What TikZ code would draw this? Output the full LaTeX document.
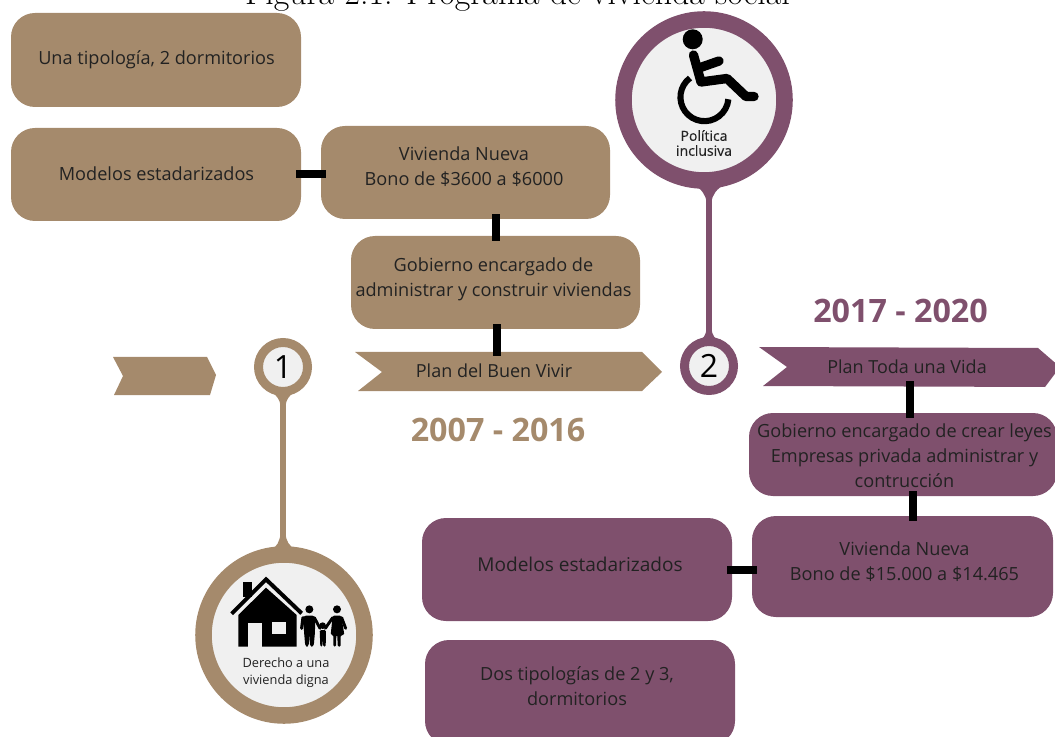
\documentclass[tikz,border=0pt]{standalone}
\usepackage{fontspec}
\setsansfont{Open Sans}
\newfontfamily\capfont[FakeBold=0.3]{Open Sans}
\definecolor{tan}{HTML}{A58A6C}
\definecolor{plum}{HTML}{7F506D}
\definecolor{disc}{HTML}{F0F0F0}
\definecolor{ink}{HTML}{222222}
\tikzset{
  pbox/.style n args={3}{draw=none,fill=#1,rounded corners=18pt,minimum width=#2*0.75pt,minimum height=#3*0.75pt,
    inner sep=0pt},
  boxlabel/.style={inner sep=0pt,align=center,text=ink,font=\sffamily\fontsize{13.6}{18.75}\selectfont},
  link/.style={draw=black,line width=6pt,shorten >=-3.75pt,shorten <=-3.75pt},
  stem/.style={line width=3.9pt},
  small disc/.style={circle,fill=disc,draw=#1,line width=6.75pt,minimum size=49*0.75pt,inner sep=0pt,text=black,font=\sffamily\fontsize{24}{24}\selectfont},
  big disc/.style={circle,fill=disc,draw=#1,line width=12.4pt,minimum size=161*0.75pt,inner sep=0pt},
  banner text/.style={inner sep=0pt,minimum height=39*0.75pt,minimum width=100pt,text=ink,font=\sffamily\fontsize{13.5}{18.75}\selectfont},
  year/.style={inner sep=0pt,font=\sffamily\bfseries\fontsize{24.2}{24.2}\selectfont},
  caption text/.style={inner sep=0pt,align=center,text=ink},
}
\begin{document}
\begin{tikzpicture}[x=0.75pt,y=-0.75pt]
\useasboundingbox (0,0) rectangle (1055,737);
\clip (0,0) rectangle (1055,737);

% title, cut by the top edge
\node[anchor=base,inner sep=0pt,font=\rmfamily\fontsize{25.4}{25.4}\selectfont] (title) at (517.5,5) {Figura 2.1: Programa de vivienda social};

% banners
\fill[tan] (113,357) -- (207,357) -- (216,375) -- (210,395) -- (114,395) -- (123,376) -- cycle;
\fill[tan] (355,352) -- (642,352) -- (662,372) -- (642,391) -- (358,391) -- (382,372) -- cycle;
\fill[plum] (759,347) -- (1038,348) -- (1060,367) -- (1045,387) -- (763,386) -- (787,367) -- cycle;

% tan boxes
\node[pbox={tan}{290}{94}] (a1) at (156,60) {};
\node[pbox={tan}{290}{93}] (a2) at (156,174.5) {};
\node[pbox={tan}{289}{93}] (a3) at (465.5,172.5) {};
\node[pbox={tan}{289}{93}] (a4) at (495.5,282.5) {};
\node[boxlabel] (a1t) at (156.5,59.5) {Una tipología, 2 dormitorios};
\node[boxlabel] (a2t) at (156.5,173.5) {Modelos estadarizados};
\node[boxlabel] (a3t) at (464,166.5) {Vivienda Nueva\\Bono de \$3600 a \$6000};
\node[boxlabel] (a4t) at (493.5,279) {Gobierno encargado de\\administrar y construir viviendas};
\node[banner text] (plan1) at (494,370.5) {Plan del Buen Vivir};

% plum boxes
\node[pbox={plum}{308}{83}] (b1) at (903,454.5) {};
\node[pbox={plum}{301}{101}] (b2) at (902.5,566.5) {};
\node[pbox={plum}{310}{103}] (b3) at (577,569.5) {};
\node[pbox={plum}{310}{105}] (b4) at (580,692.5) {};
\node[boxlabel] (b1t) at (904.5,456) {Gobierno encargado de crear leyes\\Empresas privada administrar y\\contrucción};
\node[boxlabel] (b2t) at (904.5,561.5) {Vivienda Nueva\\Bono de \$15.000 a \$14.465};
\node[boxlabel,font=\sffamily\fontsize{14.3}{18.75}\selectfont] (b3t) at (580,564) {Modelos estadarizados};
\node[boxlabel] (b4t) at (577,686.5) {Dos tipologías de 2 y 3,\\dormitorios};
\node[banner text] (plan2) at (907,366.5) {Plan Toda una Vida};

% connectors between boxes
\draw[link] (a2.east) -- (a2.east -| a3.west);
\draw[link] (a4.north) -- (a4.north |- a3.south);
\draw[link] ([xshift=1pt]a4.south) -- ([xshift=1pt]a4.south |- plan1.north);
\draw[link] ([xshift=5.25pt]b1.north) -- ([xshift=5.25pt]b1.north |- plan2.south);
\draw[link] ([xshift=7.9pt]b2.north) -- ([xshift=7.9pt]b2.north |- b1.south);
\draw[link] (b3.east) -- (b3.east -| b2.west);

% years
\node[year,text=plum] (y2) at (900.5,311) {2017 - 2020};
\node[year,text=tan] (y1) at (498,430) {2007 - 2016};

% discs
\coordinate (p1) at (283,367);
\coordinate (p2) at (709,366);
\coordinate (q1) at (284,635);
\coordinate (q2) at (704,100);
\draw[stem,tan] (p1) -- (283,540);
\draw[stem,plum] (p2) -- (709,190);
\fill[tan] (270,551) .. controls (277,547) and (280,541) .. (280.5,533) -- (285.5,533) .. controls (286,541) and (289,546) .. (296,550) -- cycle;
\fill[tan] (272,392) .. controls (277,396) and (280,400) .. (280.5,406) -- (285.5,406) .. controls (286,400) and (289,396) .. (294,392) -- cycle;
\fill[plum] (693,184) .. controls (701,189) and (706,194) .. (706.5,203) -- (711.5,203) .. controls (712,194) and (717,189) .. (725,184) -- cycle;
\fill[plum] (698,342) .. controls (703,339) and (706,335) .. (706.5,329) -- (711.5,329) .. controls (712,335) and (715,339) .. (720,342) -- cycle;
\node[small disc=tan] (n1) at (p1) {1};
\node[small disc=plum] (n2) at (p2) {2};
\node[big disc=tan] (d1) at (q1) {};
\node[big disc=plum] (d2) at (q2) {};

% wheelchair
\fill[black] (692.7,39.3) circle[radius=10];
\draw[black,line width=7pt,line cap=round,line join=round] (693.5,55) -- (701,82) -- (727,78.5) -- (746,96.5) -- (754,96.5);
\draw[black,line width=7pt,line cap=round] (699,68) -- (719,61);
\draw[black,line width=4.6pt] (690,78) arc[start angle=233,end angle=5,radius=24];
\node[caption text,font=\capfont\fontsize{10.5}{11.2}\selectfont] (t2) at (704,143) {Política\\inclusiva};

% house and family, drawn at one third scale
\begin{scope}[shift={(180,520)},x=0.25pt,y=-0.25pt]
\fill[black] (188,185) rectangle (215,232);
\draw[black,line width=3pt,miter limit=10] (155,281) -- (258,178) -- (365,280);
\fill[black] (175,285) -- (258,203) -- (350,285) -- (350,380) -- (175,380) -- cycle;
\fill[disc] (205,310) rectangle (245,380);
\fill[disc] (275,305) rectangle (318,342);
\fill[black] (388,268) circle[radius=12];
\fill[black,rounded corners=2pt] (370,287) -- (405,287) -- (405,335) -- (401,380) -- (390,380) -- (388,340) -- (386,380) -- (376,380) -- (372,335) -- cycle;
\draw[black,line width=2.4pt,line cap=round,line join=round] (369,293) -- (365,325);
\draw[black,line width=2.2pt,line cap=round,line join=round] (403,293) -- (420,325);
\fill[black] (428,317) circle[radius=10];
\fill[black,rounded corners=1pt] (419,330) -- (438,330) -- (437,380) -- (430,380) -- (428.5,358) -- (427,380) -- (421,380) -- cycle;
\fill[black] (471,268) circle[radius=12];
\fill[black,rounded corners=1pt] (458,287) -- (484,287) -- (493,345) -- (482,345) -- (482,380) -- (473,380) -- (472,345) -- (469,345) -- (468,380) -- (460,380) -- (460,345) -- (452,345) -- cycle;
\draw[black,line width=2.2pt,line cap=round] (458,293) -- (436,325);
\draw[black,line width=2.2pt,line cap=round] (485,293) -- (497,325);
\end{scope}
\node[caption text,font=\sffamily\fontsize{9.6}{12.75}\selectfont] (t1) at (286,672.5) {Derecho a una\\vivienda digna};
\end{tikzpicture}
\end{document}
